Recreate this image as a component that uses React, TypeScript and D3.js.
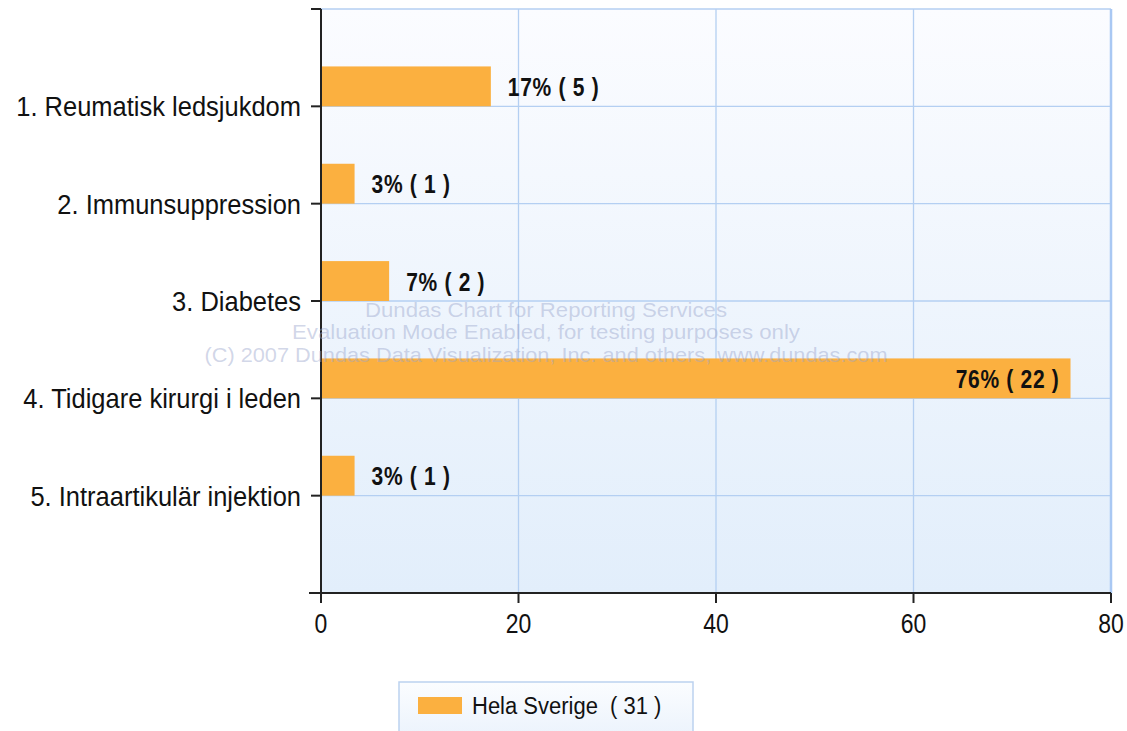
import * as d3 from "d3";

// data
const categories = [
    "1. Reumatisk ledsjukdom",
    "2. Immunsuppression",
    "3. Diabetes",
    "4. Tidigare kirurgi i leden",
    "5. Intraartikulär injektion",
];
const percents = [17.2, 3.4, 6.9, 75.9, 3.4];
const counts = [5, 1, 2, 22, 1];
const xTicks = [0, 20, 40, 60, 80];
const seriesName = "Hela Sverige\u00a0 ( 31 )";
const watermark = [
    "Dundas Chart for Reporting Services",
    "Evaluation Mode Enabled, for testing purposes only",
    "(C) 2007 Dundas Data Visualization, Inc. and others, www.dundas.com",
];
const watermarkWidths = [362, 508, 683];

const width = 1127;
const height = 731;
const left = 321, right = 1111, top = 9, bottom = 593;
const barColor = "#fbb040";
const gridColor = "#b4cff2";

export default function App() {
    const x = d3.scaleLinear([0, 80], [left, right]);
    const y = d3.scaleLinear([0, categories.length + 1], [top, bottom]);
    const step = y(1) - y(0);
    const barH = step * 0.41;
    const font = "'Liberation Sans', Arial, sans-serif";
    // the reference text is a bit stretched vertically
    const tall = (tx: number, ty: number, s = 1.12) => `translate(${tx},${ty}) scale(1,${s})`;

    return (
        <svg width={width} height={height} style={{ position: "absolute", left: 0, top: 0, background: "white" }} fontFamily={font}>
            <defs>
                <linearGradient id="plotBg" x1="0" y1="0" x2="0" y2="1">
                    <stop offset="0" stopColor="#fbfcff" />
                    <stop offset="1" stopColor="#e2eefb" />
                </linearGradient>
                <linearGradient id="legBg" x1="0" y1="0" x2="0" y2="1">
                    <stop offset="0" stopColor="#fbfdff" />
                    <stop offset="1" stopColor="#eaf2fc" />
                </linearGradient>
            </defs>

            <rect x={left} y={top} width={right - left} height={bottom - top} fill="url(#plotBg)" />

            {/* grid */}
            <g stroke={gridColor} strokeWidth={1.3}>
                {xTicks.slice(1).map((t) => (
                    <line key={t} x1={x(t)} x2={x(t)} y1={top} y2={bottom} />
                ))}
                {d3.range(0, categories.length + 1).map((i) => (
                    <line key={i} x1={left} x2={right} y1={y(i)} y2={y(i)} />
                ))}
            </g>
            <line x1={right} x2={right} y1={top} y2={bottom} stroke="#a9c8f3" strokeWidth={2.5} />

            {/* bars */}
            {percents.map((v, i) => (
                <rect key={i} x={x(0)} y={y(i + 1) - barH} width={x(v) - x(0)} height={barH} fill={barColor} />
            ))}

            {/* bar labels */}
            {percents.map((v, i) => {
                const inside = v > 60;
                const label = `${Math.round(v)}% ( ${counts[i]} )`;
                return (
                    <text
                        key={i}
                        transform={tall(inside ? x(v) - 11 : x(v) + 17, y(i + 1) - barH / 2 + 1, 1.2)}
                        dominantBaseline="central"
                        textAnchor={inside ? "end" : "start"}
                        fontWeight="bold"
                        fontSize={21}
                        letterSpacing={0.7}
                        fill="#111"
                    >
                        {label}
                    </text>
                );
            })}

            {/* axes */}
            <g stroke="#222" strokeWidth={2}>
                <line x1={left} x2={left} y1={top} y2={bottom} />
                <line x1={left - 12} x2={right} y1={bottom} y2={bottom} />
                {d3.range(0, categories.length + 1).map((i) => (
                    <line key={i} x1={left - 10} x2={left} y1={y(i)} y2={y(i)} />
                ))}
                {xTicks.map((t) => (
                    <line key={t} x1={x(t)} x2={x(t)} y1={bottom} y2={bottom + 10} />
                ))}
            </g>

            {categories.map((c, i) => (
                <text key={c} transform={tall(left - 20, y(i + 1))} dominantBaseline="central" textAnchor="end" fontSize={25.5} fill="#111">
                    {c}
                </text>
            ))}
            {xTicks.map((t) => (
                <text key={t} transform={tall(x(t), bottom + 30, 1.18)} dominantBaseline="central" textAnchor="middle" fontSize={23} fill="#111">
                    {t}
                </text>
            ))}

            {/* watermark */}
            <g fill="#9aa5cc" fillOpacity={0.45} fontSize={21} textAnchor="middle">
                {watermark.map((w, i) => (
                    <text
                        key={i}
                        x={546}
                        y={309 + i * 22.5}
                        dominantBaseline="central"
                        textLength={watermarkWidths[i]}
                        lengthAdjust="spacingAndGlyphs"
                    >
                        {w}
                    </text>
                ))}
            </g>

            {/* legend */}
            <rect x={399} y={682} width={294} height={60} fill="url(#legBg)" stroke="#bcd2ef" strokeWidth={1.5} />
            <rect x={418} y={697} width={44} height={17} fill={barColor} />
            <text transform={tall(472, 706, 1.1)} dominantBaseline="central" fontSize={22} fill="#111">
                {seriesName}
            </text>
        </svg>
    );
}
